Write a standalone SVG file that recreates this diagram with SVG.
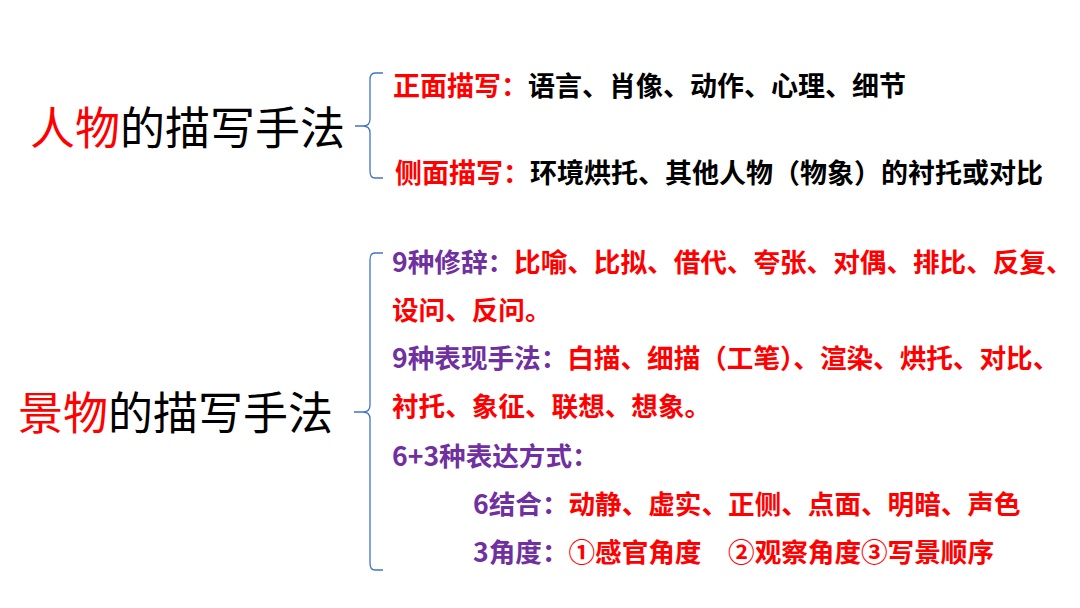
<svg xmlns="http://www.w3.org/2000/svg" width="1080" height="608" viewBox="0 0 1080 608">
<style>
text{font-family:"Microsoft YaHei","Noto Sans CJK SC",sans-serif}
.t{font-size:45px;fill:#000}
.r{fill:#ff0000}
.k{fill:#000}
.p{fill:#7030a0}
.b{font-weight:bold;font-size:27px}
.a{font-weight:bold;font-size:26.6px}
.br{fill:none;stroke:#4472c4;stroke-width:1.3}
</style>
<rect width="1080" height="608" fill="#fff"/>
<g id="connectors">
<path class="br" d="M383 73 H375 Q370 73 370 80 V119 Q370 126 363 126 H355 M363 126 Q370 126 370 133 V171 Q370 178 375 178 H383"/>
<path class="br" d="M383 253 H375 Q370 253 370 260 V405 Q370 412 363 412 H354 M363 412 Q370 412 370 419 V563 Q370 570 375 570 H383"/>
</g>
<g id="node-renwu"><text class="t" x="30" y="145"><tspan class="r">人物</tspan>的描写手法</text></g>
<g id="node-jingwu"><text class="t" x="18" y="430"><tspan class="r">景物</tspan>的描写手法</text></g>
<g id="node-zhengmian"><text class="b" x="393" y="96"><tspan class="r">正面描写：</tspan><tspan class="k">语言、肖像、动作、心理、细节</tspan></text></g>
<g id="node-cemian"><text class="b" x="395" y="183"><tspan class="r">侧面描写：</tspan><tspan class="k">环境烘托、其他人物（物象）的衬托或对比</tspan></text></g>
<g id="node-xiuci"><text class="a" x="392" y="272"><tspan class="p">9种修辞：</tspan><tspan class="r">比喻、比拟、借代、夸张、对偶、排比、反复、</tspan></text>
<text class="a r" x="392" y="320">设问、反问。</text></g>
<g id="node-biaoxian"><text class="a" x="392" y="368"><tspan class="p">9种表现手法：</tspan><tspan class="r">白描、细描（工笔）、渲染、烘托、对比、</tspan></text>
<text class="a r" x="392" y="416">衬托、象征、联想、想象。</text></g>
<g id="node-biaoda"><text class="a p" x="392" y="466">6+3种表达方式：</text></g>
<g id="node-jiehe"><text class="a" x="473" y="514"><tspan class="p">6结合：</tspan><tspan class="r">动静、虚实、正侧、点面、明暗、声色</tspan></text></g>
<g id="node-jiaodu"><text class="a" x="473" y="562"><tspan class="p">3角度：</tspan><tspan class="r">①感官角度　②观察角度③写景顺序</tspan></text></g>
</svg>
